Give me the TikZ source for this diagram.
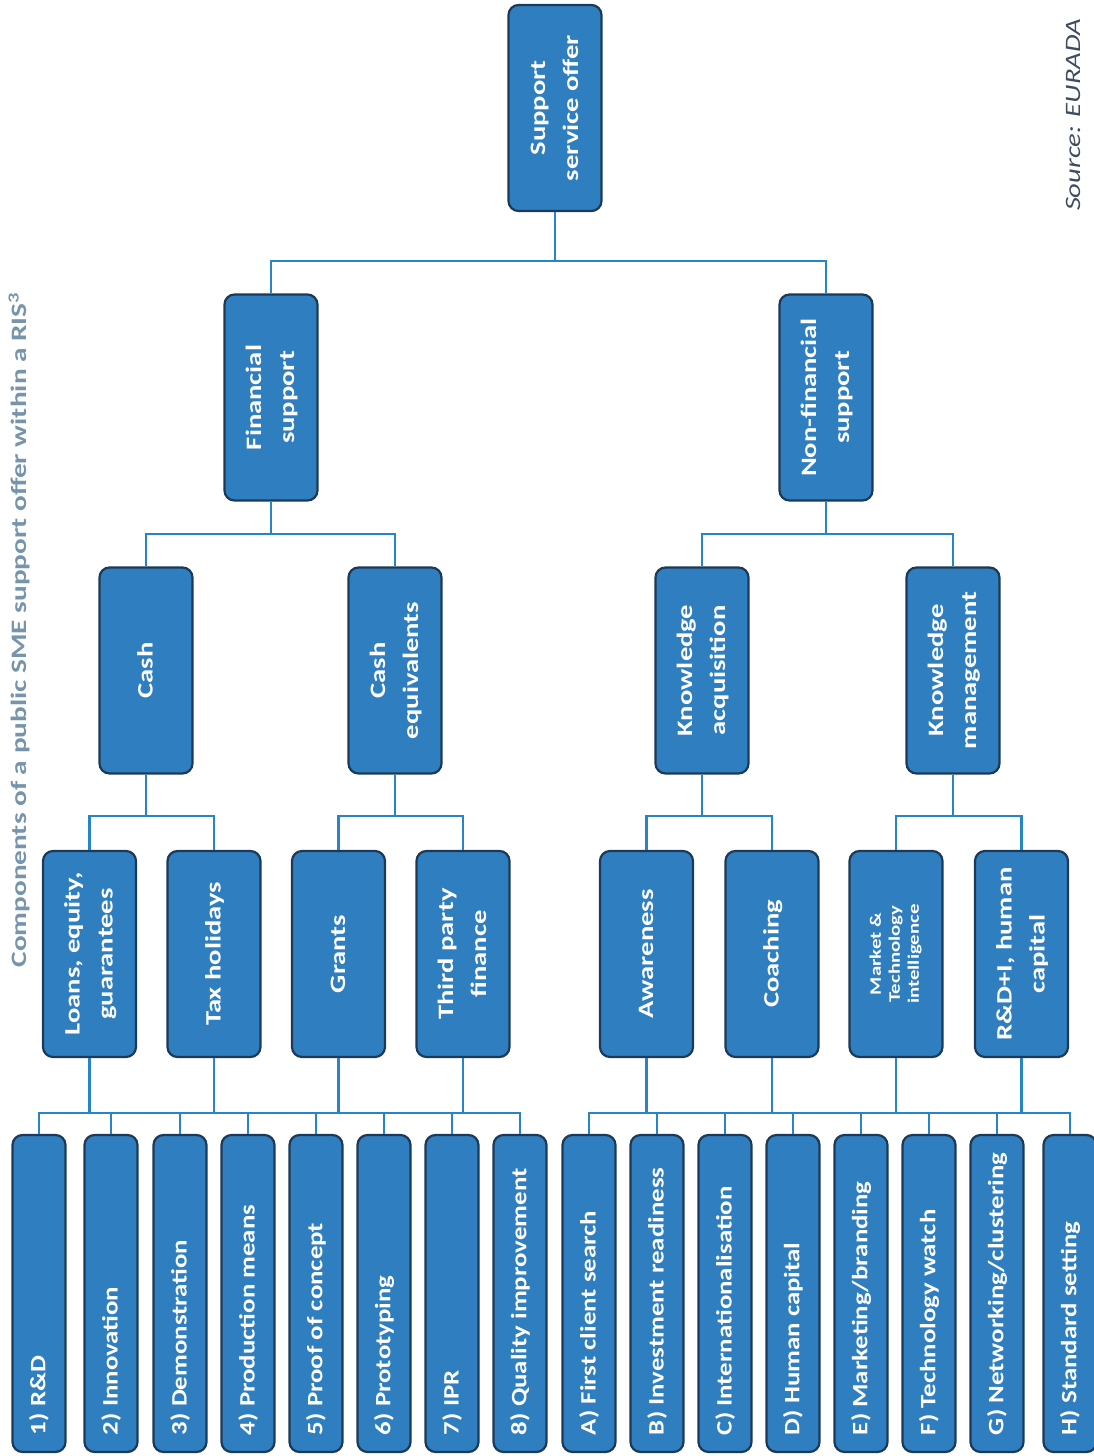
\documentclass[tikz,border=0pt]{standalone}
\usepackage{fontspec}
\setmainfont{Carlito}
\usepackage{graphicx}
\usepackage{tikz}
\definecolor{boxblue}{RGB}{46,126,192}
\definecolor{boxedge}{RGB}{28,58,88}
\definecolor{linkblue}{RGB}{38,132,200}
\definecolor{titlegrey}{RGB}{118,148,172}
\definecolor{srcgrey}{RGB}{62,76,96}
% text turned to read upwards, a little stretched along the line
\newcommand{\vtxt}[1]{\rotatebox{90}{\scalebox{1.3}[1]{\begin{tabular}{@{}c@{}}#1\end{tabular}}}}
\newcommand{\ltxt}[1]{\rotatebox{90}{\makebox[283pt][l]{\scalebox{1.22}[1]{#1}}}}

\begin{document}
\begin{tikzpicture}[x=1pt,y=-1pt,
    box/.style={draw=boxedge, line width=2.2pt, fill=boxblue, rounded corners=10pt,
      text=white, inner sep=0pt, minimum width=93pt, minimum height=206pt,
      font=\fontsize{22}{33}\selectfont\bfseries},
    leaf/.style={box, minimum width=53pt, minimum height=317pt},
    link/.style={draw=linkblue, line width=2.6pt}]
    \useasboundingbox (0,0) rectangle (1094,1456);
    % fork heights
    \coordinate (f0) at (555,261);
    \coordinate (f1) at (0,534);
    \coordinate (f2) at (0,816);
    \coordinate (f3) at (0,1113);

    \node[box] (root) at (555,108) {\vtxt{Support\\service offer}};
    \node[box] (fin) at (271,397.5) {\vtxt{Financial\\support}};
    \node[box] (nonfin) at (826,397.5) {\vtxt{Non-financial\\support}};

    \node[box] (cash) at (146,670.5) {\vtxt{Cash}};
    \node[box] (casheq) at (395,670.5) {\vtxt{Cash\\equivalents}};
    \node[box] (kacq) at (702,670.5) {\vtxt{Knowledge\\acquisition}};
    \node[box] (kman) at (953,670.5) {\vtxt{Knowledge\\management}};

    \node[box] (loans) at (89.5,954) {\vtxt{Loans, equity,\\guarantees}};
    \node[box] (tax) at (214,954) {\vtxt{Tax holidays}};
    \node[box] (grants) at (338.5,954) {\vtxt{Grants}};
    \node[box] (third) at (463,954) {\vtxt{Third party\\finance}};
    \node[box] (aware) at (646.5,954) {\vtxt{Awareness}};
    \node[box] (coach) at (772,954) {\vtxt{Coaching}};
    \node[box, font=\fontsize{16}{19}\selectfont\bfseries] (market) at (896,954)
      {\vtxt{Market \&\\Technology\\intelligence}};
    \node[box] (rdhc) at (1021.5,954) {\vtxt{R\&D+I, human\\capital}};

    \foreach \x/\txt [count=\i] in {39/{1) R\&D}, 111/{2) Innovation},
        180/{3) Demonstration}, 248/{4) Production means}, 316/{5) Proof of concept},
        384/{6) Prototyping}, 452/{7) IPR}, 520/{8) Quality improvement},
        589/{A) First client search}, 657/{B) Investment readiness},
        725/{C) Internationalisation}, 793/{D) Human capital},
        861/{E) Marketing/branding}, 929/{F) Technology watch},
        997/{G) Networking/clustering}, 1070/{H) Standard setting}}{
      \node[leaf] (l\i) at (\x,1293.5) {\ltxt{\txt}};
    }

    % tree links
    \draw[link] (root.south) -- (root.south |- f0);
    \draw[link] (fin.north) |- (root.south |- f0) -| (nonfin.north);
    \draw[link] (fin.south) -- (fin.south |- f1);
    \draw[link] (cash.north) |- (fin.south |- f1) -| (casheq.north);
    \draw[link] (nonfin.south) -- (nonfin.south |- f1);
    \draw[link] (kacq.north) |- (nonfin.south |- f1) -| (kman.north);
    \foreach \p/\a/\b in {cash/loans/tax, casheq/grants/third, kacq/aware/coach, kman/market/rdhc}{
      \draw[link] (\p.south) -- (\p.south |- f2);
      \draw[link] (\a.north) |- (\p.south |- f2) -| (\b.north);
    }
    % the two buses to the leaves
    \draw[link] (l1.north) |- (l8.north |- f3) -- (l8.north);
    \draw[link] (l9.north) |- (l16.north |- f3) -- (l16.north);
    \foreach \k in {2,...,7,10,11,...,15}
      \draw[link] (l\k.north) -- (l\k.north |- f3);
    \foreach \n in {loans,tax,grants,third,aware,coach,market,rdhc}
      \draw[link] (\n.south) -- (\n.south |- f3);

    \node[text=titlegrey, font=\fontsize{22}{26}\selectfont\bfseries] (title) at (19,630)
      {\rotatebox{90}{\scalebox{1.33}[1]{Components of a public SME support offer within a RIS\textsuperscript{3}}}};
    \node[text=srcgrey, font=\fontsize{22}{26}\selectfont\itshape] (src) at (1073,115)
      {\rotatebox{90}{\scalebox{1.3}[1]{Source: EURADA}}};
\end{tikzpicture}
\end{document}
